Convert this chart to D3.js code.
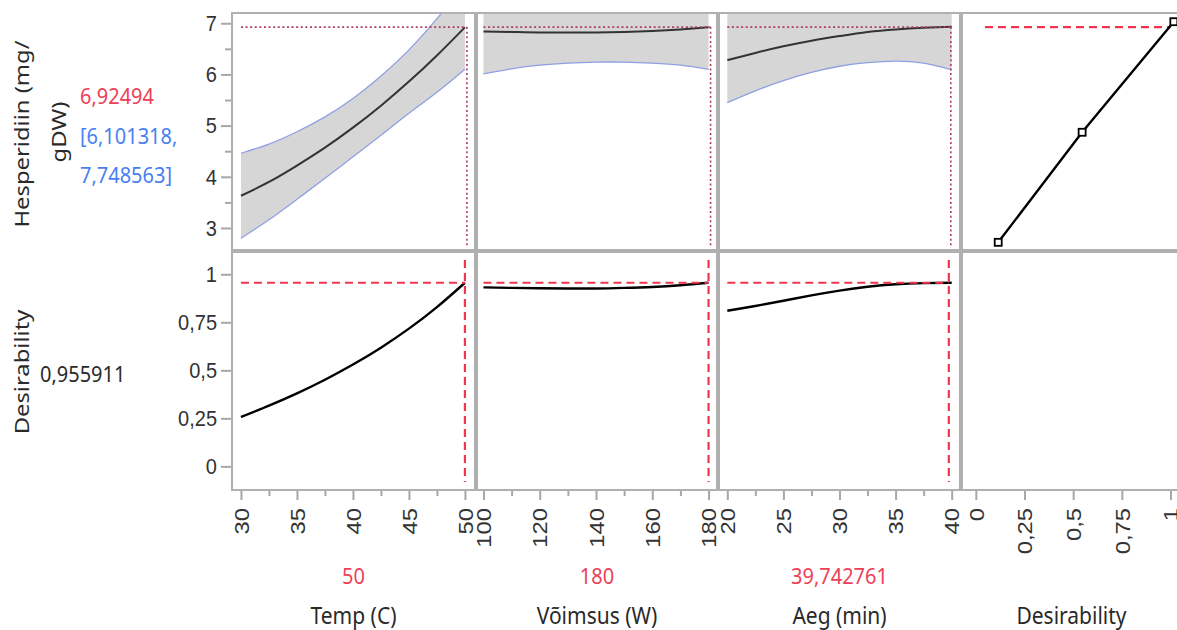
<!DOCTYPE html>
<html lang="et">
<head>
<meta charset="UTF-8" />
<title>Prediction Profiler</title>
<script src="https://d3js.org/d3.v7.min.js"></script>
<style>
  body { margin: 0; background: #fff; }
  svg { display: block; font-family: "Noto Sans", "Open Sans", sans-serif; }
  .frame { fill: none; stroke: #b0b0b0; stroke-width: 2; }
  .axis path { display: none; }
  .axis line { stroke: #a8a8a8; stroke-width: 2; }
  .axis text { font-size: 20px; fill: #333; }
  .band { fill: #d6d6d6; }
  .ci { fill: none; stroke: #8fa0e2; stroke-width: 1.3; }
  .mean { fill: none; stroke: #333; stroke-width: 2; }
  .desir { fill: none; stroke: #000; stroke-width: 2.4; }
  .dot-ref { fill: none; stroke: #b03c62; stroke-width: 1.6; stroke-dasharray: 2 2.6; }
  .dash-ref { fill: none; stroke: #f0364f; stroke-width: 2.2; stroke-dasharray: 8 5; }
  .lbl { font-size: 20px; fill: #2a2a2a; }
</style>
</head>
<body>
<svg width="1177" height="630"></svg>
<script>
const tempLevels = [30, 32.5, 35, 37.5, 40, 42.5, 45, 47.5, 50];
const tempMean   = [3.63, 3.90, 4.22, 4.57, 4.96, 5.39, 5.86, 6.37, 6.92];
const tempLower  = [2.80, 3.16, 3.56, 3.97, 4.39, 4.81, 5.24, 5.65, 6.10];
const tempUpper  = [4.46, 4.64, 4.88, 5.17, 5.53, 5.97, 6.48, 7.09, 7.75];
const tempDesir  = [0.257, 0.316, 0.380, 0.451, 0.530, 0.618, 0.717, 0.829, 0.956];

const powerLevels = [100, 110, 120, 130, 140, 150, 160, 170, 180];
const powerMean   = [6.84, 6.83, 6.82, 6.82, 6.82, 6.83, 6.85, 6.88, 6.92];
const powerLower  = [6.01, 6.11, 6.18, 6.22, 6.24, 6.24, 6.22, 6.18, 6.10];
const powerUpper  = [7.67, 7.55, 7.46, 7.42, 7.40, 7.42, 7.48, 7.58, 7.75];
const powerDesir  = [0.932, 0.929, 0.927, 0.926, 0.926, 0.929, 0.934, 0.943, 0.956];

const timeLevels = [20, 22.5, 25, 27.5, 30, 32.5, 35, 37.5, 40];
const timeMean   = [6.28, 6.42, 6.55, 6.66, 6.75, 6.83, 6.88, 6.91, 6.93];
const timeLower  = [5.45, 5.68, 5.88, 6.04, 6.16, 6.23, 6.26, 6.22, 6.09];
const timeUpper  = [7.22, 7.24, 7.27, 7.31, 7.36, 7.43, 7.50, 7.60, 7.77];
const timeDesir  = [0.81, 0.835, 0.862, 0.89, 0.915, 0.935, 0.948, 0.954, 0.956];

// desirability function (desirability -> response)
const desirFnD    = [0.115, 0.546, 1.017];
const desirFnResp = [2.72, 4.87, 7.03];
const desirRefFrom = 0.047;

const factorNames  = ["Temp (C)", "Võimsus (W)", "Aeg (min)"];
const currentVals  = [50, 180, 39.742761];
const currentText  = ["50", "180", "39,742761"];
const predicted    = 6.92494;
const predLowText  = "[6,101318,";
const predHighText = "7,748563]";
const overallDesir = 0.955911;

const tempTicks  = [30, 35, 40, 45, 50];
const powerTicks = [100, 120, 140, 160, 180];
const timeTicks  = [20, 25, 30, 35, 40];
const desirTicks = [0, 0.25, 0.5, 0.75, 1];
const respTicks  = [3, 4, 5, 6, 7];

// ---- layout ----
const svg = d3.select("svg");
const colX = [232, 477, 719, 962];
const colR = [475, 717, 960, 1182];
const rowT = [13, 252];
const rowB = [250, 490];
const RED = "#ee3f58", BLUE = "#4a7ff0";
const SX = 1.19, SY = 1.13;   // the source picture is stretched vertically
const fmt = d => String(d).replace(".", ",");

const xScales = [
  d3.scaleLinear().domain([29.2, 50.9]).range([colX[0], colR[0]]),
  d3.scaleLinear().domain([97.7, 183]).range([colX[1], colR[1]]),
  d3.scaleLinear().domain([19.26, 40.74]).range([colX[2], colR[2]]),
  d3.scaleLinear().domain([-0.071, 1.059]).range([colX[3], colR[3]])
];
const yResp  = d3.scaleLinear().domain([2.57, 7.2]).range([rowB[0], rowT[0]]);
const yDesir = d3.scaleLinear().domain([-0.123, 1.116]).range([rowB[1], rowT[1]]);

const factors = [
  { levels: tempLevels,  mean: tempMean,  lo: tempLower,  hi: tempUpper,  des: tempDesir },
  { levels: powerLevels, mean: powerMean, lo: powerLower, hi: powerUpper, des: powerDesir },
  { levels: timeLevels,  mean: timeMean,  lo: timeLower,  hi: timeUpper,  des: timeDesir }
];

const defs = svg.append("defs");
for (let c = 0; c < 4; c++) {
  for (let r = 0; r < 2; r++) {
    defs.append("clipPath").attr("id", `clip${c}${r}`)
      .append("rect")
      .attr("x", colX[c]).attr("y", rowT[r])
      .attr("width", colR[c] - colX[c]).attr("height", rowB[r] - rowT[r]);
  }
}

const crv = d3.curveNatural;
factors.forEach((f, i) => {
  const x = xScales[i];
  const pts = f.levels.map((v, k) => ({ v, m: f.mean[k], lo: f.lo[k], hi: f.hi[k], d: f.des[k] }));

  // response row
  const gTop = svg.append("g").attr("clip-path", `url(#clip${i}0)`);
  gTop.append("path").datum(pts).attr("class", "band")
    .attr("d", d3.area().curve(crv).x(d => x(d.v)).y0(d => yResp(d.lo)).y1(d => yResp(d.hi)));
  ["lo", "hi"].forEach(key => {
    gTop.append("path").datum(pts).attr("class", "ci")
      .attr("d", d3.line().curve(crv).x(d => x(d.v)).y(d => yResp(d[key])));
  });
  gTop.append("path").datum(pts).attr("class", "mean")
    .attr("d", d3.line().curve(crv).x(d => x(d.v)).y(d => yResp(d.m)));
  gTop.append("line").attr("class", "dot-ref")
    .attr("x1", x(f.levels[0])).attr("x2", x(currentVals[i]) + 2)
    .attr("y1", yResp(predicted)).attr("y2", yResp(predicted));
  gTop.append("line").attr("class", "dot-ref")
    .attr("x1", x(currentVals[i]) + 2).attr("x2", x(currentVals[i]) + 2)
    .attr("y1", yResp(predicted)).attr("y2", rowB[0] - 3);

  // desirability row
  const gBot = svg.append("g").attr("clip-path", `url(#clip${i}1)`);
  gBot.append("path").datum(pts).attr("class", "desir")
    .attr("d", d3.line().curve(crv).x(d => x(d.v)).y(d => yDesir(d.d)));
  gBot.append("line").attr("class", "dash-ref")
    .attr("x1", x(f.levels[0])).attr("x2", x(currentVals[i]))
    .attr("y1", yDesir(overallDesir)).attr("y2", yDesir(overallDesir));
  gBot.append("line").attr("class", "dash-ref")
    .attr("x1", x(currentVals[i])).attr("x2", x(currentVals[i]))
    .attr("y1", rowT[1] + 8).attr("y2", rowB[1] - 8);
});

// desirability function panel
{
  const x = xScales[3];
  const fn = desirFnD.map((d, k) => ({ d, r: desirFnResp[k] }));
  const g = svg.append("g").attr("clip-path", `url(#clip30)`);
  g.append("line").attr("class", "dash-ref")
    .attr("x1", x(desirRefFrom)).attr("x2", x(1))
    .attr("y1", yResp(predicted)).attr("y2", yResp(predicted));
  g.append("path").datum(fn).attr("class", "desir").attr("stroke-width", 2.2)
    .attr("d", d3.line().x(d => x(d.d)).y(d => yResp(d.r)));
  g.selectAll("rect.mk").data(fn).join("rect").attr("class", "mk")
    .attr("x", d => x(d.d) - 3.5).attr("y", d => yResp(d.r) - 3.5)
    .attr("width", 7).attr("height", 7)
    .attr("fill", "#fff").attr("stroke", "#000").attr("stroke-width", 1.8);
}

// frames
for (let c = 0; c < 4; c++) {
  for (let r = 0; r < 2; r++) {
    svg.append("rect").attr("class", "frame")
      .attr("x", colX[c]).attr("y", rowT[r])
      .attr("width", colR[c] - colX[c]).attr("height", rowB[r] - rowT[r]);
  }
}

// y axes
function yAxis(scale, ticks, minors) {
  const g = svg.append("g").attr("class", "axis").attr("transform", `translate(${colX[0] - 1},0)`);
  if (minors.length) {
    g.append("g").call(d3.axisLeft(scale).tickValues(minors).tickSize(6).tickFormat(""));
  }
  g.append("g").call(d3.axisLeft(scale).tickValues(ticks).tickSize(10).tickPadding(4).tickFormat(fmt))
    .selectAll("text").attr("transform", `scale(1,${SY})`);
}
yAxis(yResp, respTicks, [3.5, 4.5, 5.5, 6.5]);
yAxis(yDesir, desirTicks, []);

// x axes (rotated labels)
const allTicks = [tempTicks, powerTicks, timeTicks, desirTicks];
const minorStep = [2.5, 10, 2.5, 0];
xScales.forEach((x, i) => {
  const g = svg.append("g").attr("class", "axis").attr("transform", `translate(0,${rowB[1] + 1})`);
  const t = allTicks[i];
  if (minorStep[i]) {
    const minors = d3.range(t[0] + minorStep[i], t[t.length - 1], minorStep[i] * 2);
    g.append("g").call(d3.axisBottom(x).tickValues(minors).tickSize(5).tickFormat(""));
  }
  const major = g.append("g").call(d3.axisBottom(x).tickValues(t).tickSize(9).tickFormat(fmt));
  major.selectAll("text")
    .attr("transform", `rotate(-90) scale(${SX},1)`)
    .attr("x", -17 / SX).attr("y", 0).attr("dy", "0.36em")
    .style("text-anchor", "end");
});

// text helpers
function hText(x, y, str, color, anchor, size) {
  svg.append("text").attr("class", "lbl")
    .attr("transform", `translate(${x},${y}) scale(1,${SY})`)
    .attr("text-anchor", anchor || "start").attr("dominant-baseline", "central")
    .style("font-size", (size || 20) + "px")
    .style("fill", color || "#2a2a2a").text(str);
}
function vText(x, y, str) {
  svg.append("text").attr("class", "lbl")
    .attr("transform", `translate(${x},${y}) rotate(-90) scale(${SX},1)`)
    .attr("text-anchor", "middle").text(str);
}

// factor current values and names
const centers = colX.map((x0, i) => (x0 + colR[i]) / 2);
factorNames.forEach((name, i) => {
  hText(centers[i], 575, currentText[i], RED, "middle");
  hText(centers[i], 615, name, null, "middle", 21);
});
hText((colX[3] + 1177) / 2 + 2, 615, "Desirability", null, "middle", 21);

// left-hand response labels
vText(29, 134, "Hesperidiin (mg/");
vText(66, 132, "gDW)");
hText(80, 95, fmt(predicted), RED);
hText(80, 135, predLowText, BLUE);
hText(80, 174, predHighText, BLUE);

vText(29, 372, "Desirability");
hText(40, 373, fmt(overallDesir));
</script>
</body>
</html>
